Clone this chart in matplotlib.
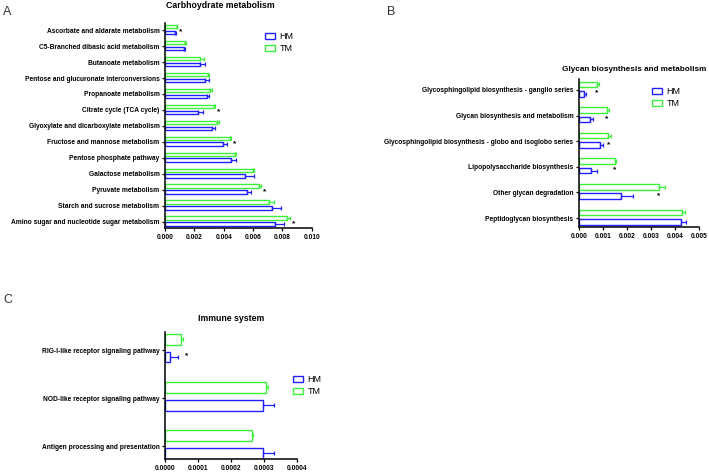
import numpy as np
import matplotlib
matplotlib.use("Agg")
import matplotlib.pyplot as plt

plt.rcParams['font.family'] = ['Liberation Sans', 'DejaVu Sans']

# data
carb_labels = ["Ascorbate and aldarate metabolism", "C5-Branched dibasic acid metabolism",
               "Butanoate metabolism", "Pentose and glucuronate interconversions",
               "Propanoate metabolism", "Citrate cycle (TCA cycle)",
               "Glyoxylate and dicarboxylate metabolism", "Fructose and mannose metabolism",
               "Pentose phosphate pathway", "Galactose metabolism", "Pyruvate metabolism",
               "Starch and sucrose metabolism", "Amino sugar and nucleotide sugar metabolism"]
carb_hm = [0.0007, 0.0013, 0.0024, 0.00275, 0.00285, 0.00228, 0.00323, 0.00397, 0.00447, 0.00544, 0.0056, 0.0073, 0.0075]
carb_hm_err = [0.00005, 0.00005, 0.0003, 0.00025, 0.00018, 0.0003, 0.00018, 0.00027, 0.00036, 0.0006, 0.00027, 0.0006, 0.00063]
carb_tm = [0.00079, 0.00135, 0.0024, 0.0029, 0.0031, 0.00333, 0.00357, 0.00442, 0.00474, 0.00598, 0.0064, 0.00707, 0.00835]
carb_tm_err = [0.00005, 0.00007, 0.00023, 0.00007, 0.0001, 0.00005, 0.0001, 0.0001, 0.00013, 0.00007, 0.00013, 0.00034, 0.00014]
carb_sig = [0, 5, 7, 10, 12]

glycan_labels = ["Glycosphingolipid biosynthesis - ganglio series", "Glycan biosynthesis and metabolism",
                 "Glycosphingolipid biosynthesis - globo and isoglobo series",
                 "Lipopolysaccharide biosynthesis", "Other glycan degradation",
                 "Peptidoglycan biosynthesis"]
glycan_hm = [0.00019, 0.00044, 0.00089, 0.00052, 0.00174, 0.00423]
glycan_hm_err = [0.00012, 0.00014, 0.00012, 0.00025, 0.00052, 0.00022]
glycan_tm = [0.00074, 0.00115, 0.00123, 0.00149, 0.00333, 0.00431]
glycan_tm_err = [0.0001, 0.0001, 0.0001, 0.00005, 0.00024, 0.0001]
glycan_sig = [0, 1, 2, 3, 4]

immune_labels = ["RIG-I-like receptor signaling pathway", "NOD-like receptor signaling pathway",
                 "Antigen processing and presentation"]
immune_hm = [0.000016, 0.000296, 0.000296]
immune_hm_err = [0.000022, 0.000035, 0.000035]
immune_tm = [0.00005, 0.000306, 0.000264]
immune_tm_err = [0.000006, 0.000006, 0.000004]
immune_sig = [0]

BLUE = '#1f1fff'
GREEN = '#3cf03c'

fig = plt.figure(figsize=(7.09, 4.72), dpi=100)


def panel(rect, labels, hm, hm_err, tm, tm_err, sig, xmax, step, fmt, title, title_x, pad,
          ylim_pad, star_mode, leg_xy, title_size=6.3):
    ax = fig.add_axes(rect)
    n = len(labels)
    y = np.arange(n)
    h = 0.22
    ax.barh(y + 0.15, hm, height=h, color='white', edgecolor=BLUE, linewidth=1.0, label='HM',
            xerr=[np.zeros(n), hm_err], error_kw=dict(ecolor=BLUE, elinewidth=0.9, capsize=1.6, capthick=0.9))
    ax.barh(y - 0.22, tm, height=h, color='white', edgecolor=GREEN, linewidth=1.0, label='TM',
            xerr=[np.zeros(n), tm_err], error_kw=dict(ecolor=GREEN, elinewidth=0.9, capsize=1.6, capthick=0.9))
    for i in sig:
        if star_mode == 'bar':
            sx = tm[i]
        else:
            sx = max(tm[i] + tm_err[i], hm[i] + hm_err[i]) + 0.025 * xmax
        ax.text(sx, i + 0.12, '*', fontsize=6, fontweight='bold', ha='center', va='center')
    ax.set_ylim(n - 1 + ylim_pad[1], -ylim_pad[0])
    ax.set_xlim(0, xmax)
    ax.set_yticks(y)
    ax.set_yticklabels(labels, fontsize=4.75, fontweight='bold')
    ticks = np.arange(0, xmax + step / 2, step)
    ax.set_xticks(ticks)
    ax.set_xticklabels([fmt % t for t in ticks], fontsize=4.8, fontweight='bold')
    for s in ['top', 'right']:
        ax.spines[s].set_visible(False)
    for s in ['left', 'bottom']:
        ax.spines[s].set_linewidth(1.1)
    ax.tick_params(axis='both', length=2.5, width=0.9, pad=1.5)
    ax.set_title(title, fontsize=title_size, fontweight='bold', x=title_x, pad=pad)
    ax.legend(loc='upper left', bbox_to_anchor=leg_xy, bbox_transform=fig.transFigure,
              frameon=False, fontsize=6.5, handlelength=1.1, handleheight=0.55,
              labelspacing=0.35, handletextpad=0.5, borderpad=0, borderaxespad=0)
    return ax


panel([0.2327, 0.5169, 0.2069, 0.4344], carb_labels, carb_hm, carb_hm_err, carb_tm, carb_tm_err,
      carb_sig, 0.010, 0.002, '%.3f', 'Carbhoydrate metabolism', 0.375, 11, (0.45, 0.4), 'end',
      (265 / 709, 1 - 32 / 472))
panel([0.8166, 0.5191, 0.1693, 0.3136], glycan_labels, glycan_hm, glycan_hm_err, glycan_tm, glycan_tm_err,
      glycan_sig, 0.005, 0.001, '%.3f', 'Glycan biosynthesis and metabolism', 0.46, 6, (0.43, 0.35), 'bar',
      (652 / 709, 1 - 87 / 472), title_size=5.9)
panel([0.2327, 0.0275, 0.1862, 0.2691], immune_labels, immune_hm, immune_hm_err, immune_tm, immune_tm_err,
      immune_sig, 0.0004, 0.0001, '%.4f', 'Immune system', 0.5, 8, (0.375, 0.27), 'end',
      (293 / 709, 1 - 375 / 472))

fig.text(3 / 709, 1 - 12 / 472, 'A', fontsize=9, color='#333333', va='center')
fig.text(387 / 709, 1 - 12 / 472, 'B', fontsize=9, color='#333333', va='center')
fig.text(3 / 709, 1 - 300 / 472, 'C', fontsize=9, color='#333333', va='center')

fig.savefig('out.png', dpi=100)
